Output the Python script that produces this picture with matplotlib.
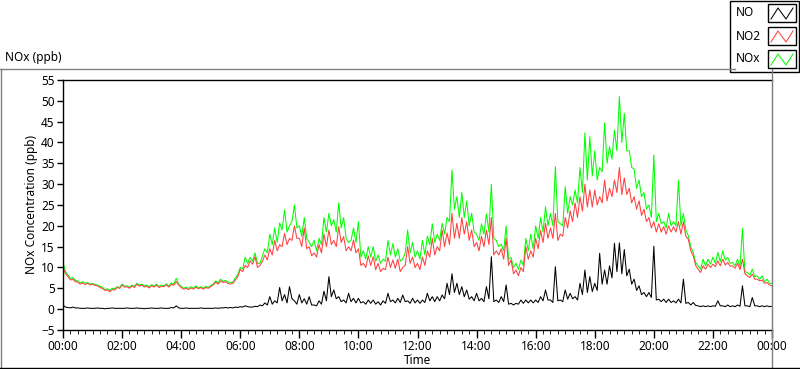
import numpy as np
import matplotlib
matplotlib.use("Agg")
import matplotlib.pyplot as plt
from matplotlib.lines import Line2D
from matplotlib.patches import Rectangle

# readings on the 10-minute marks, 00:00 .. 24:00 (ppb)
no2 = [
    10.0, 7.8, 7.2, 6.5, 6.3, 6.2,
    6.0, 5.6, 5.0, 4.6, 4.7, 5.2,
    5.8, 5.4, 5.6, 6.0, 5.8, 5.5,
    5.6, 5.8, 5.5, 5.8, 6.0, 6.6,
    5.2, 5.0, 5.1, 5.3, 5.2, 5.2,
    5.4, 6.5, 6.8, 6.6, 6.0, 7.0,
    9.5, 10.5, 11.6, 12.6, 10.5, 13.0,
    14.5, 16.5, 15.5, 18.2, 17.0, 20.0,
    17.0, 19.5, 15.0, 13.5, 15.5, 18.0,
    19.0, 16.5, 19.8, 17.4, 15.0, 16.6,
    14.5, 11.0, 12.8, 12.6, 11.0, 9.8,
    12.5, 11.8, 12.0, 10.0, 15.0, 12.5,
    11.0, 12.5, 14.0, 17.0, 15.0, 19.0,
    18.3, 23.0, 20.6, 22.0, 21.0, 19.0,
    16.0, 17.5, 19.0, 22.0, 14.0, 14.5,
    17.0, 11.8, 9.4, 10.0, 15.0, 14.0,
    17.0, 18.9, 20.6, 19.5, 23.0, 18.0,
    22.0, 23.6, 25.5, 27.0, 30.0, 28.6,
    28.6, 27.0, 31.0, 29.0, 31.0, 34.0,
    31.5, 29.0, 27.0, 26.0, 24.0, 22.0,
    21.0, 20.5, 19.8, 20.0, 19.8, 21.0,
    21.0, 16.8, 12.8, 9.6, 10.4, 10.8,
    10.8, 11.6, 12.0, 11.2, 10.4, 11.0,
    12.0, 8.0, 8.4, 7.2, 7.0, 6.4,
    5.6,
]
nox = [
    11.2, 8.2, 7.6, 6.8, 6.6, 6.4,
    6.2, 5.8, 5.3, 4.9, 5.0, 5.4,
    6.0, 5.6, 5.8, 6.2, 6.0, 5.8,
    5.9, 6.0, 5.8, 6.1, 6.3, 7.4,
    5.5, 5.3, 5.4, 5.6, 5.4, 5.5,
    5.7, 6.8, 7.2, 6.9, 6.4, 7.5,
    10.0, 12.5, 12.4, 13.5, 11.0, 14.5,
    18.0, 19.5, 20.7, 23.8, 20.0, 25.0,
    20.0, 22.0, 16.0, 16.5, 17.0, 22.0,
    23.0, 21.5, 25.5, 22.0, 16.0, 19.5,
    21.0, 14.0, 15.0, 15.0, 13.0, 12.0,
    16.5, 15.7, 14.5, 12.0, 19.0, 16.0,
    14.0, 16.5, 17.5, 20.5, 18.0, 20.6,
    22.0, 33.4, 27.0, 28.0, 26.0, 23.0,
    18.0, 20.5, 22.9, 30.0, 16.5, 15.6,
    20.0, 12.4, 11.0, 11.8, 17.0, 18.0,
    20.0, 22.0, 24.6, 23.0, 34.2, 20.5,
    29.4, 27.0, 28.6, 34.0, 42.3, 41.4,
    38.0, 34.0, 44.7, 39.0, 43.0, 51.0,
    47.0, 38.0, 33.6, 31.0, 28.0, 25.0,
    37.0, 23.0, 21.0, 23.0, 21.0, 31.0,
    23.0, 17.6, 13.6, 10.4, 12.0, 12.0,
    12.5, 13.6, 14.0, 12.4, 11.2, 12.0,
    19.4, 8.8, 9.6, 8.0, 8.0, 7.2,
    6.2,
]
no = [
    1.0, 0.4, 0.5, 0.3, 0.2, 0.3,
    0.2, 0.3, 0.2, 0.2, 0.3, 0.2,
    0.2, 0.3, 0.2, 0.3, 0.2, 0.2,
    0.3, 0.2, 0.3, 0.2, 0.4, 0.8,
    0.2, 0.3, 0.2, 0.2, 0.3, 0.2,
    0.2, 0.3, 0.3, 0.4, 0.4, 0.5,
    0.6, 0.8, 0.5, 0.7, 1.0, 1.5,
    3.0, 2.0, 5.2, 3.5, 5.4, 2.0,
    3.5, 2.5, 3.0, 1.0, 2.0, 4.3,
    7.8, 4.6, 3.0, 2.2, 3.8, 2.6,
    2.6, 1.8, 2.2, 2.2, 1.8, 2.0,
    3.8, 2.2, 2.6, 3.4, 2.0, 2.6,
    2.2, 2.2, 3.8, 3.0, 3.0, 3.4,
    6.2, 8.5, 6.2, 5.4, 4.6, 3.0,
    3.8, 2.6, 5.4, 12.6, 2.2, 3.0,
    5.8, 1.4, 1.4, 2.2, 2.2, 2.2,
    2.2, 3.0, 4.6, 2.2, 10.2, 2.2,
    4.6, 3.8, 3.0, 6.2, 9.4, 7.8,
    6.2, 13.4, 9.4, 10.4, 15.8, 15.9,
    14.3, 9.6, 7.2, 5.6, 4.0, 4.0,
    15.1, 2.4, 2.4, 2.4, 2.0, 2.4,
    7.2, 1.6, 1.6, 0.8, 0.8, 0.8,
    0.8, 2.0, 0.8, 1.0, 0.8, 1.0,
    5.6, 0.8, 2.8, 0.8, 0.8, 0.8,
    0.7,
]

# readings at :05, :15, ... (troughs between the marks above)
no2_mid = [
    8.5, 7.0, 6.6, 6.0, 5.9, 5.8,
    5.7, 5.2, 4.5, 4.2, 4.6, 5.0,
    5.3, 5.0, 5.2, 5.5, 5.3, 5.1,
    5.3, 5.2, 5.4, 5.3, 5.7, 5.8,
    4.8, 4.7, 4.8, 4.9, 4.8, 5.0,
    5.8, 6.0, 6.4, 6.2, 6.2, 7.8,
    9.0, 10.0, 10.8, 10.0, 11.5, 11.8,
    13.0, 14.0, 15.0, 15.5, 16.5, 17.0,
    15.0, 14.5, 12.8, 12.5, 13.5, 15.0,
    15.5, 15.0, 16.0, 14.0, 14.0, 13.5,
    10.5, 10.0, 10.5, 9.5, 9.0, 9.5,
    10.0, 9.8, 9.0, 10.5, 11.0, 10.0,
    9.5, 10.5, 12.5, 13.0, 14.0, 15.0,
    15.5, 17.0, 17.0, 18.0, 16.5, 15.0,
    14.0, 15.0, 15.5, 13.0, 13.0, 12.0,
    10.5, 8.5, 8.0, 9.0, 12.0, 12.5,
    14.5, 16.0, 17.0, 17.0, 16.5, 17.5,
    19.5, 21.0, 22.0, 23.5, 24.5, 24.5,
    25.0, 25.5, 26.0, 27.0, 28.0, 27.5,
    27.5, 25.5, 24.0, 22.5, 21.0, 19.5,
    18.5, 18.5, 18.0, 18.5, 18.5, 18.0,
    17.5, 14.0, 10.5, 8.8, 9.6, 10.0,
    10.2, 10.4, 10.6, 10.3, 9.8, 9.5,
    8.5, 7.6, 7.2, 6.8, 6.2, 5.8,
]
nox_mid = [
    9.0, 7.4, 6.9, 6.3, 6.2, 6.0,
    5.9, 5.5, 4.7, 4.5, 4.9, 5.2,
    5.5, 5.2, 5.5, 5.8, 5.6, 5.4,
    5.5, 5.4, 5.6, 5.5, 6.0, 6.0,
    5.0, 5.0, 5.0, 5.1, 5.0, 5.2,
    6.0, 6.3, 6.7, 6.5, 6.5, 8.3,
    9.6, 11.0, 11.5, 11.0, 12.8, 13.5,
    15.5, 16.0, 19.0, 18.5, 21.0, 19.5,
    17.5, 17.0, 15.0, 14.0, 15.5, 18.5,
    20.0, 18.5, 19.5, 17.0, 16.5, 16.0,
    12.5, 12.0, 12.5, 11.5, 11.0, 11.5,
    13.0, 12.5, 11.5, 13.5, 13.5, 12.5,
    12.0, 13.0, 15.5, 16.0, 16.5, 18.0,
    21.0, 24.0, 22.0, 22.0, 20.0, 18.5,
    16.5, 18.0, 18.5, 17.0, 15.0, 14.0,
    12.0, 10.0, 9.5, 10.5, 14.0, 14.5,
    17.0, 18.5, 20.0, 20.0, 21.0, 20.0,
    23.0, 25.0, 25.5, 28.0, 31.0, 32.0,
    31.0, 33.0, 35.0, 36.0, 38.0, 40.0,
    38.0, 34.0, 29.0, 27.0, 24.0, 22.0,
    21.0, 20.5, 19.5, 20.0, 20.0, 20.0,
    19.0, 15.0, 11.2, 9.6, 10.4, 10.8,
    11.0, 11.4, 11.8, 11.0, 10.4, 10.2,
    9.0, 8.2, 7.8, 7.2, 6.6, 6.2,
]
no_mid = [
    0.5, 0.3, 0.3, 0.2, 0.2, 0.2,
    0.2, 0.2, 0.1, 0.2, 0.2, 0.2,
    0.2, 0.2, 0.2, 0.2, 0.1, 0.2,
    0.2, 0.2, 0.2, 0.2, 0.3, 0.3,
    0.2, 0.2, 0.2, 0.2, 0.2, 0.2,
    0.2, 0.2, 0.3, 0.3, 0.3, 0.4,
    0.5, 0.6, 0.5, 0.6, 0.8, 1.0,
    1.2, 1.5, 2.0, 1.5, 2.5, 1.2,
    1.5, 1.2, 1.0, 0.8, 1.2, 2.0,
    3.0, 2.5, 1.8, 1.5, 1.8, 1.5,
    1.5, 1.2, 1.4, 1.2, 1.0, 1.4,
    1.8, 1.5, 1.6, 1.8, 1.4, 1.5,
    1.4, 1.6, 2.0, 1.8, 2.0, 2.5,
    3.5, 4.0, 3.5, 3.0, 2.4, 2.0,
    2.0, 1.8, 2.5, 1.8, 1.6, 1.8,
    1.2, 1.0, 1.2, 1.4, 1.5, 1.5,
    1.6, 2.0, 2.2, 1.6, 2.0, 1.8,
    2.4, 2.5, 2.2, 3.5, 4.0, 4.2,
    4.5, 6.0, 6.0, 7.5, 9.0, 8.5,
    8.0, 6.0, 4.5, 3.5, 3.0, 2.8,
    2.2, 1.8, 1.6, 1.6, 1.5, 1.5,
    1.4, 1.0, 0.9, 0.6, 0.6, 0.6,
    0.7, 0.8, 0.6, 0.6, 0.6, 0.7,
    0.8, 0.6, 0.8, 0.6, 0.6, 0.6,
]

tick_labels = ["00:00", "02:00", "04:00", "06:00", "08:00", "10:00", "12:00",
               "14:00", "16:00", "18:00", "20:00", "22:00", "00:00"]
series = ["NO", "NO2", "NOx"]
colors = {"NO": "black", "NO2": "#ff4040", "NOx": "#00ff00"}


def merge(marks, mids):
    out = np.empty(len(marks) + len(mids))
    out[0::2] = marks
    out[1::2] = mids
    return out


no2_all = merge(no2, no2_mid)
nox_all = merge(nox, nox_mid)
no_all = merge(no, no_mid)
hours = np.arange(len(no2_all)) / 12.0

W, H = 800, 369
plt.rcParams['font.family'] = ['Noto Sans', 'DejaVu Sans']
fs = 8.5
fig = plt.figure(figsize=(8, 3.69), dpi=100)

ax = fig.add_axes([63 / W, 1 - 330 / H, (772 - 63) / W, (330 - 80) / H])
ax.plot(hours, nox_all, color=colors["NOx"], lw=0.75)
ax.plot(hours, no2_all, color=colors["NO2"], lw=0.75)
ax.plot(hours, no_all, color=colors["NO"], lw=0.75)

ax.set_xlim(0, 24)
ax.set_ylim(-5, 55)
ax.set_yticks(np.arange(-5, 56, 5))
ax.set_xticks(np.arange(0, 25, 2))
ax.set_xticklabels(tick_labels)
ax.set_xticks(np.arange(0, 24.01, 0.25), minor=True)
ax.tick_params(axis="both", labelsize=fs, direction="out", width=1, color="black")
ax.tick_params(axis="x", which="major", length=6, pad=1)
ax.tick_params(axis="x", which="minor", length=3)
ax.tick_params(axis="y", length=4, pad=2)
for s in ["left", "top", "bottom"]:
    ax.spines[s].set_color("black")
    ax.spines[s].set_linewidth(1)
ax.spines["right"].set_color("#808080")
ax.set_ylabel("NOx Concentration (ppb)", fontsize=fs, labelpad=2)
ax.set_xlabel("Time", fontsize=fs, labelpad=1)

# panel frame
fig.add_artist(Line2D([0, 735 / W], [1 - 69 / H] * 2, color="#808080", lw=1))
fig.add_artist(Line2D([0.5 / W] * 2, [0, 1 - 69 / H], color="#808080", lw=1))
fig.add_artist(Line2D([772 / W] * 2, [0, 1 - 69 / H], color="#808080", lw=1))
fig.add_artist(Line2D([0, 1], [1.5 / H] * 2, color="black", lw=1))
fig.text(5 / W, 1 - 58 / H, "NOx (ppb)", fontsize=fs, va="center", ha="left")

# legend box
fig.add_artist(Rectangle((730 / W, 1 - 72 / H), 69 / W, 71.5 / H, fill=False,
                         edgecolor="black", lw=1))
for i, name in enumerate(series):
    yc = 13 + 23 * i
    fig.text(736 / W, 1 - yc / H, name, fontsize=fs, va="center", ha="left")
    bx0, bx1 = 768, 796
    by0, by1 = yc - 9, yc + 9
    fig.add_artist(Rectangle((bx0 / W, 1 - by1 / H), (bx1 - bx0) / W, (by1 - by0) / H,
                             fill=False, edgecolor="black", lw=1))
    zx = [771, 778, 786, 793]
    zy = [yc + 6, yc - 5, yc + 6, yc - 5]
    fig.add_artist(Line2D([x / W for x in zx], [1 - y / H for y in zy],
                          color=colors[name], lw=0.75))

fig.savefig("out.png", dpi=100)
